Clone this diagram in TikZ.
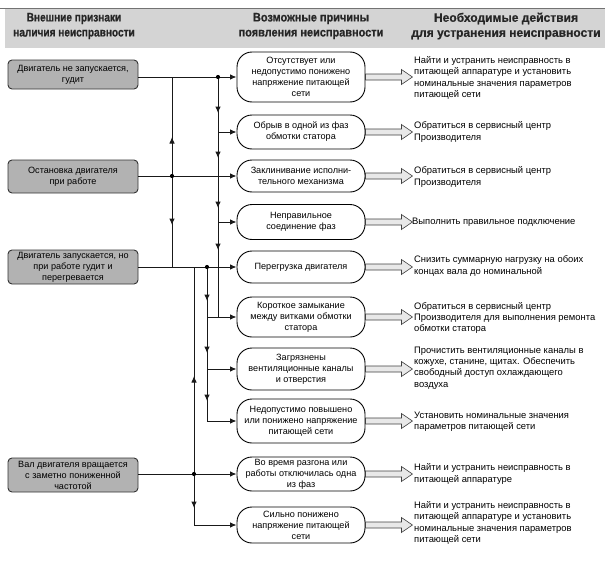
\documentclass[tikz,border=0pt]{standalone}
\usepackage{fontspec}
\setmainfont{Liberation Sans}
\newfontfamily\headfont{Liberation Sans}[FakeStretch=0.82,FakeBold=0.6]
\newfontfamily\headfontb{Liberation Sans}[FakeStretch=0.89,FakeBold=0.6]
\newfontfamily\headfontc{Liberation Sans}[FakeStretch=0.98,FakeBold=0.6]
\usetikzlibrary{arrows.meta,decorations.markings}
\definecolor{headgray}{RGB}{212,212,212}
\definecolor{boxgray}{RGB}{178,178,178}
\definecolor{arrowfill}{RGB}{232,232,232}
\newcommand\midtip{\arrow{Latex[length=6.5pt,width=5.5pt]}}
\begin{document}
\begin{tikzpicture}[x=1pt,y=-1pt,
  font=\fontsize{9.4}{11.2}\selectfont,
  headtext/.style={align=center, text=black!85},
  symptom/.style={draw=black!80, line width=0.9pt, fill=boxgray, rounded corners=4pt,
     minimum width=130pt, align=center, inner sep=1pt, font=\fontsize{9.1}{11}\selectfont},
  cause/.style={draw=black, line width=0.9pt, fill=white, rounded corners=15pt,
     minimum width=128pt, align=center, inner sep=1pt, font=\fontsize{9.1}{11}\selectfont},
  action/.style={anchor=west, align=left, inner sep=0pt},
  conn/.style={line width=1pt, draw=black!90},
  tip/.style={-{Latex[length=6.5pt,width=5.5pt]}},
  junction/.style={fill=black},
  bigarr/.pic={\draw[line width=0.6pt, draw=black!75, fill=arrowfill]
     (0,-3) -- (36,-3) -- (36,-7.5) -- (47,0) -- (36,7.5) -- (36,3) -- (0,3) -- cycle;}
]
\useasboundingbox (0,0) rectangle (605,562);

% header
\fill[headgray] (5,9) rectangle (605,48);
\draw[black!55, line width=0.8pt] (0,8.5) -- (605,8.5);
\node[headtext, font=\headfont\bfseries\fontsize{12.3}{15}\selectfont] (h1) at (74,26) {Внешние признаки\\наличия неисправности};
\node[headtext, font=\headfontb\bfseries\fontsize{12.3}{15}\selectfont] (h2) at (311,26) {Возможные причины\\появления неисправности};
\node[headtext, font=\headfontc\bfseries\fontsize{12.3}{15}\selectfont] (h3) at (506,26) {Необходимые действия\\для устранения неисправности};

% symptoms
\node[symptom, minimum height=29pt] (s1) at (73,74.5) {Двигатель не запускается,\\гудит};
\node[symptom, minimum height=33pt] (s2) at (73,176.5) {Остановка двигателя\\при работе};
\node[symptom, minimum height=34pt] (s3) at (73,267) {Двигатель запускается, но\\при работе гудит и\\перегревается};
\node[symptom, minimum height=34pt] (s4) at (73,475) {Вал двигателя вращается\\с заметно пониженной\\частотой};

% causes
\node[cause, minimum height=50pt] (c1) at (301,77) {Отсутствует или\\недопустимо понижено\\напряжение питающей\\сети};
\node[cause, minimum height=34pt] (c2) at (301,132) {Обрыв в одной из фаз\\обмотки статора};
\node[cause, minimum height=32pt] (c3) at (301,176) {Заклинивание исполни-\\тельного механизма};
\node[cause, minimum height=35pt] (c4) at (301,222) {Неправильное\\соединение фаз};
\node[cause, minimum height=32pt] (c5) at (301,267) {Перегрузка двигателя};
\node[cause, minimum height=40pt] (c6) at (301,317) {Короткое замыкание\\между витками обмотки\\статора};
\node[cause, minimum height=42pt] (c7) at (301,369) {Загрязнены\\вентиляционные каналы\\и отверстия};
\node[cause, minimum height=44pt] (c8) at (301,421) {Недопустимо повышено\\или понижено напряжение\\питающей сети};
\node[cause, minimum height=34pt] (c9) at (301,474) {Во время разгона или\\работы отключилась одна\\из фаз};
\node[cause, minimum height=36pt] (c10) at (301,525) {Сильно понижено\\напряжение питающей\\сети};

% big arrows
\foreach \c in {c1,c2,c3,c4,c5,c6,c7,c8,c9,c10} {\pic at (\c.east) {bigarr};}

% actions
\node[action] (a1) at (414,78) {Найти и устранить неисправность в\\питающей аппаратуре и установить\\номинальные значения параметров\\питающей сети};
\node[action] (a2) at (414,132) {Обратиться в сервисный центр\\Производителя};
\node[action] (a3) at (414,177) {Обратиться в сервисный центр\\Производителя};
\node[action] (a4) at (412,222) {Выполнить правильное подключение};
\node[action] (a5) at (414,266) {Снизить суммарную нагрузку на обоих\\концах вала до номинальной};
\node[action] (a6) at (414,318) {Обратиться в сервисный центр\\Производителя для выполнения ремонта\\обмотки статора};
\node[action] (a7) at (414,368) {Прочистить вентиляционные каналы в\\кожухе, станине, щитах. Обеспечить\\свободный доступ охлаждающего\\воздуха};
\node[action] (a8) at (414,422) {Установить номинальные значения\\параметров питающей сети};
\node[action] (a9) at (414,474) {Найти и устранить неисправность в\\питающей аппаратуре};
\node[action] (a10) at (414,523) {Найти и устранить неисправность в\\питающей аппаратуре и установить\\номинальные значения параметров\\питающей сети};

% junctions
\coordinate (j1) at (218,77);
\coordinate (j2) at (172,176);
\coordinate (j3) at (207,267);
\coordinate (j4) at (194,474);

% main horizontal lines
\draw[conn,tip] (s1.east |- c1.west) -- (c1.west);
\draw[conn,tip] (s2.east |- c3.west) -- (c3.west);
\draw[conn,tip] (s3.east |- c5.west) -- (c5.west);
\draw[conn,tip] (s4.east |- c9.west) -- (c9.west);

% x=172 riser from S2
\draw[conn, postaction={decorate}, decoration={markings, mark=at position 39pt with {\midtip}}]
  (j2) -- (j2 |- c1.west);
\draw[conn, postaction={decorate}, decoration={markings, mark=at position 49pt with {\midtip}}]
  (j2) -- (j2 |- c5.west);

% x=218 bus from S1
\draw[conn, postaction={decorate}, decoration={markings,
   mark=at position 36pt with {\midtip}, mark=at position 81pt with {\midtip},
   mark=at position 131pt with {\midtip}, mark=at position 173pt with {\midtip}}]
  (j1) -- (j1 |- c6.west);
\draw[conn,tip] (j1 |- c2.west) -- (c2.west);
\draw[conn,tip] (j1 |- c4.west) -- (c4.west);

% x=207 bus from S3
\draw[conn, tip, postaction={decorate}, decoration={markings,
   mark=at position 34pt with {\midtip}, mark=at position 86pt with {\midtip},
   mark=at position 134pt with {\midtip}}]
  (j3) -- (j3 |- c8.west) -- (c8.west);
\draw[conn,tip] (j3 |- c6.west) -- (c6.west);
\draw[conn,tip] (j3 |- c7.west) -- (c7.west);

% x=194 from S4
\draw[conn, postaction={decorate}, decoration={markings, mark=at position 98pt with {\midtip}}]
  (j4) -- (j4 |- c5.west);
\draw[conn, tip, postaction={decorate}, decoration={markings, mark=at position 34pt with {\midtip}}]
  (j4) -- (j4 |- c10.west) -- (c10.west);

% dots
\foreach \j in {j1,j2,j3,j4} {\fill[junction] (\j) circle (2.1pt);}
\end{tikzpicture}
\end{document}
